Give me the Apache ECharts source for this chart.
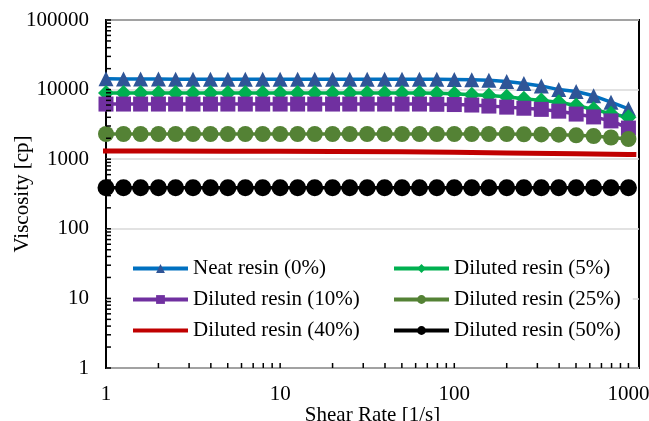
<!DOCTYPE html>
<html>
<head>
<meta charset="utf-8">
<script src="https://cdn.jsdelivr.net/npm/echarts@6/dist/echarts.min.js"></script>
<style>
  html, body { margin: 0; padding: 0; background: #fff; }
  #chart { width: 649px; height: 421px; }
</style>
</head>
<body>
<div id="chart"></div>
<script>
// Shear rates shared by the marker series [1/s]
const shearRate = [1, 1.26, 1.58, 2, 2.51, 3.16, 3.98, 5.01, 6.31, 7.94,
  10, 12.6, 15.8, 20, 25.1, 31.6, 39.8, 50.1, 63.1, 79.4,
  100, 126, 158, 200, 251, 316, 398, 501, 631, 794, 1000];

// Viscosity [cp]
const neatResin = [14300, 14200, 14200, 14200, 14100, 14100, 14100, 14100, 14100, 14100,
  14100, 14100, 14100, 14100, 14100, 14100, 14100, 14100, 14100, 14100,
  14000, 13900, 13600, 13100, 12200, 11300, 10000, 9400, 8150, 6600, 5300];
const diluted5 = [8900, 8900, 8900, 8900, 8900, 8900, 8900, 8900, 8900, 8900,
  8900, 8900, 8900, 8900, 8900, 8900, 8900, 8900, 8900, 8850,
  8700, 8450, 8200, 7900, 7400, 7000, 6600, 5900, 5200, 4500, 4000];
const diluted10 = [6200, 6200, 6200, 6200, 6200, 6200, 6200, 6200, 6200, 6200,
  6200, 6200, 6200, 6200, 6200, 6200, 6200, 6200, 6200, 6150,
  6100, 6000, 5800, 5600, 5400, 5200, 4900, 4450, 4050, 3550, 2800];
const diluted25 = [2300, 2300, 2300, 2300, 2300, 2300, 2300, 2300, 2300, 2300,
  2300, 2300, 2300, 2300, 2300, 2300, 2300, 2300, 2300, 2300,
  2300, 2300, 2300, 2300, 2280, 2270, 2250, 2200, 2150, 2050, 1950];
const diluted50 = [390, 390, 390, 390, 390, 390, 390, 390, 390, 390,
  390, 390, 390, 390, 390, 390, 390, 390, 390, 390,
  390, 390, 390, 390, 390, 390, 390, 390, 390, 390, 390];

// The 40% run was logged on its own rate grid
const shearRate40 = [0.88, 1, 2, 5, 10, 20, 50, 100, 200, 500, 1000, 1110];
const diluted40 = [1310, 1310, 1310, 1305, 1300, 1290, 1275, 1255, 1230, 1195, 1170, 1165];

// Axis ranges and tick positions
const xMin = 1, xMax = 1150;
const yMin = 1, yMax = 100000;
const xTickValues = [];
[1, 10, 100].forEach(d => { for (let m = 1; m <= 9; m++) xTickValues.push(m * d); });
xTickValues.push(1000);
const yTickValues = [];
[1, 10, 100, 1000, 10000].forEach(d => { for (let m = 1; m <= 9; m++) yTickValues.push(m * d); });
yTickValues.push(100000);

const FONT = 'Liberation Serif';
const pair = (xs, ys) => xs.map((x, i) => [x, ys[i]]);

function markerSeries(name, values, symbol, size, lineColor, markColor, width) {
  return {
    name: name,
    type: 'line',
    data: pair(shearRate, values),
    symbol: symbol,
    symbolSize: size,
    showSymbol: true,
    lineStyle: { color: lineColor, width: width },
    itemStyle: { color: markColor },
    emphasis: { disabled: true }
  };
}

const chart = echarts.init(document.getElementById('chart'), null, { renderer: 'canvas' });

const legendText = { fontFamily: FONT, fontSize: 21, color: '#000', lineHeight: 21 };
const legendCommon = {
  orient: 'vertical', top: 250,
  itemWidth: 55, itemHeight: 11, itemGap: 10,
  backgroundColor: '#fff',
  lineStyle: { width: 4 },
  textStyle: legendText, selectedMode: false
};

chart.setOption({
  animation: false,
  backgroundColor: '#fff',
  grid: {
    left: 106, right: 10, top: 20, bottom: 53,
    outerBoundsMode: 'none', containLabel: false,
    show: true, borderColor: '#000', borderWidth: 2, backgroundColor: 'transparent'
  },
  xAxis: {
    type: 'log', logBase: 10, min: xMin, max: xMax,
    name: 'Shear Rate [1/s]', nameLocation: 'middle', nameGap: 37,
    nameMoveOverlap: false,
    nameTextStyle: { fontFamily: FONT, fontSize: 21, color: '#000' },
    axisLine: { show: false },
    axisTick: { show: false },
    splitLine: { show: false },
    axisLabel: {
      fontFamily: FONT, fontSize: 21, color: '#000', margin: 16,
      showMaxLabel: false,
      formatter: v => String(Math.round(v))
    }
  },
  yAxis: {
    type: 'log', logBase: 10, min: yMin, max: yMax,
    name: 'Viscosity [cp]', nameLocation: 'middle', nameGap: 73,
    nameMoveOverlap: false,
    nameTextStyle: { fontFamily: FONT, fontSize: 21, color: '#000' },
    axisLine: { show: false },
    axisTick: { show: false },
    splitLine: { show: true, lineStyle: { color: '#d9d9d9', width: 1.5 } },
    axisLabel: {
      fontFamily: FONT, fontSize: 21, color: '#000', margin: 17,
      formatter: v => String(Math.round(v))
    }
  },
  legend: [
    Object.assign({}, legendCommon, {
      data: ['Neat resin (0%)', 'Diluted resin (10%)',
             { name: 'Diluted resin (40%)', itemStyle: { opacity: 0 } }],
      left: 111, padding: [8, 25, 8, 20]
    }),
    Object.assign({}, legendCommon, {
      data: ['Diluted resin (5%)', 'Diluted resin (25%)', 'Diluted resin (50%)'],
      left: 377, padding: [8, 12, 8, 15]
    })
  ],
  series: [
    markerSeries('Neat resin (0%)', neatResin, 'triangle', 15, '#0070C0', '#2F5597', 3.5),
    markerSeries('Diluted resin (5%)', diluted5, 'diamond', 16, '#00B050', '#00B050', 3.5),
    markerSeries('Diluted resin (10%)', diluted10, 'rect', 15, '#7030A0', '#7030A0', 3.5),
    markerSeries('Diluted resin (25%)', diluted25, 'circle', 16, '#548235', '#548235', 3.5),
    {
      name: 'Diluted resin (40%)',
      type: 'line',
      data: pair(shearRate40, diluted40),
      symbol: 'none',
      clip: false,
      lineStyle: { color: '#C00000', width: 5 },
      itemStyle: { color: '#C00000' },
      emphasis: { disabled: true }
    },
    markerSeries('Diluted resin (50%)', diluted50, 'circle', 17, '#000000', '#000000', 3.5),
    // inner tick marks along the bottom axis
    {
      type: 'custom', silent: true, z: 5,
      data: xTickValues.map(v => [v, yMin]),
      renderItem: (params, api) => {
        const p = api.coord([api.value(0), api.value(1)]);
        return { type: 'line', shape: { x1: p[0], y1: p[1], x2: p[0], y2: p[1] - 5 },
                 style: { stroke: '#000', lineWidth: 1.5 } };
      }
    },
    // inner tick marks along the left axis
    {
      type: 'custom', silent: true, z: 5,
      data: yTickValues.map(v => [xMin, v]),
      renderItem: (params, api) => {
        const p = api.coord([api.value(0), api.value(1)]);
        return { type: 'line', shape: { x1: p[0], y1: p[1], x2: p[0] + 5, y2: p[1] },
                 style: { stroke: '#000', lineWidth: 1.5 } };
      }
    }
  ]
});
</script>
</body>
</html>
